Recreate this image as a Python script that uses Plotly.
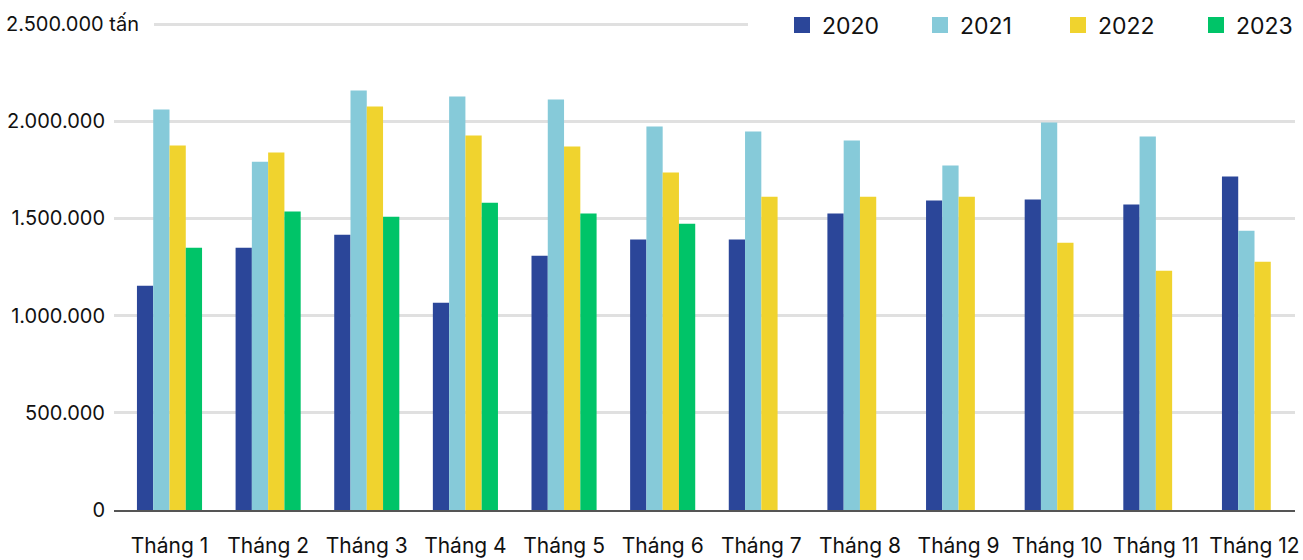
import plotly.graph_objects as go

# Monthly volumes (tonnes) by year
months = ["Tháng 1", "Tháng 2", "Tháng 3", "Tháng 4", "Tháng 5", "Tháng 6",
          "Tháng 7", "Tháng 8", "Tháng 9", "Tháng 10", "Tháng 11", "Tháng 12"]

y2020 = [1154000, 1349000, 1416000, 1066000, 1308000, 1391000,
         1391000, 1525000, 1592000, 1597000, 1571000, 1715000]
y2021 = [2060000, 1792000, 2158000, 2127000, 2112000, 1973000,
         1947000, 1901000, 1772000, 1993000, 1921000, 1437000]
y2022 = [1875000, 1839000, 2076000, 1926000, 1870000, 1736000,
         1612000, 1612000, 1612000, 1375000, 1231000, 1277000]
y2023 = [1349000, 1535000, 1509000, 1581000, 1525000, 1473000,
         None, None, None, None, None, None]

years = ["2020", "2021", "2022", "2023"]
series = [y2020, y2021, y2022, y2023]
colors = ["#2B4699", "#86CAD9", "#F0D32E", "#00C468"]

y_ticks = [0, 500000, 1000000, 1500000, 2000000, 2500000]
y_tick_text = ["0", "500.000", "1.000.000", "1.500.000", "2.000.000", ""]
top_label = "2.500.000 tấn"

FONT = "Inter, Roboto, Arial, sans-serif"
W, H = 1303, 560
L, R = 114, 1295          # plot area (px)
BOTTOM = 510              # y = 0
TOP_TICK_PX = 24          # y = 2.5M
px_per_unit = (BOTTOM - TOP_TICK_PX) / y_ticks[-1]
T = 19
ymax = (BOTTOM - T) / px_per_unit

# category axis placement: first centre at 169.5px, step 98.64px
step = (1254.5 - 169.5) / 11
x_lo = -(169.5 - L) / step
x_hi = 11 + (R - 1254.5) / step

fig = go.Figure()
for name, vals, col in zip(years, series, colors):
    fig.add_trace(go.Bar(
        x=months, y=vals, name=name, marker_color=col,
        marker_line_width=0, showlegend=False, legendgroup=name,
        hoverinfo="x+y+name",
    ))
# legend swatches
for name, col in zip(years, colors):
    fig.add_trace(go.Scatter(
        x=[None], y=[None], mode="markers", name=name, legendgroup=name,
        marker=dict(symbol="square", size=18, color=col),
    ))

plot_w = R - L
def px_x(p):
    return (p - L) / plot_w

def px_y(p):
    return (BOTTOM - p) / (BOTTOM - T)

fig.update_layout(
    width=W, height=H,
    margin=dict(l=L, r=W - R, t=T, b=H - BOTTOM, pad=0, autoexpand=False),
    plot_bgcolor="white", paper_bgcolor="white",
    font=dict(family=FONT, color="#111111"),
    barmode="group", bargap=0.34, bargroupgap=0,
    showlegend=True,
    legend=dict(
        orientation="h", xanchor="left", yanchor="middle",
        x=px_x(782), y=px_y(25),
        bgcolor="white", borderwidth=0,
        font=dict(family=FONT, size=23, color="#111111"),
        entrywidth=93, entrywidthmode="pixels",
        itemclick=False, itemdoubleclick=False,
    ),
    xaxis=dict(
        type="category", range=[x_lo, x_hi],
        showgrid=False, zeroline=False,
        showline=True, linecolor="#555555", linewidth=2,
        ticks="", ticklabelstandoff=16, tickangle=0, automargin=False,
        tickfont=dict(family=FONT, size=21, color="#111111"),
        fixedrange=True,
    ),
    yaxis=dict(
        range=[0, ymax], tickvals=y_ticks, ticktext=y_tick_text,
        showgrid=True, gridcolor="rgba(0,0,0,0.12)", gridwidth=2.5,
        zeroline=False, showline=False, ticks="", automargin=False,
        ticklabelstandoff=8, layer="above traces",
        tickfont=dict(family=FONT, size=20, color="#111111"),
        fixedrange=True,
    ),
    shapes=[
        # gap between the top axis label and its gridline
        dict(type="rect", xref="paper", yref="paper",
             x0=px_x(100), x1=px_x(154), y0=px_y(29), y1=px_y(19),
             fillcolor="white", line=dict(width=0), layer="above"),
        # top gridline stops short of the legend
        dict(type="rect", xref="paper", yref="paper",
             x0=px_x(748), x1=px_x(800), y0=px_y(29), y1=px_y(19),
             fillcolor="white", line=dict(width=0), layer="above"),
    ],
    annotations=[dict(
        text=top_label, xref="paper", yref="y",
        x=px_x(140), y=y_ticks[-1], xanchor="right", yanchor="middle",
        showarrow=False, borderpad=0,
        font=dict(family=FONT, size=20, color="#111111"),
    )],
)

fig.write_html("out.html")
